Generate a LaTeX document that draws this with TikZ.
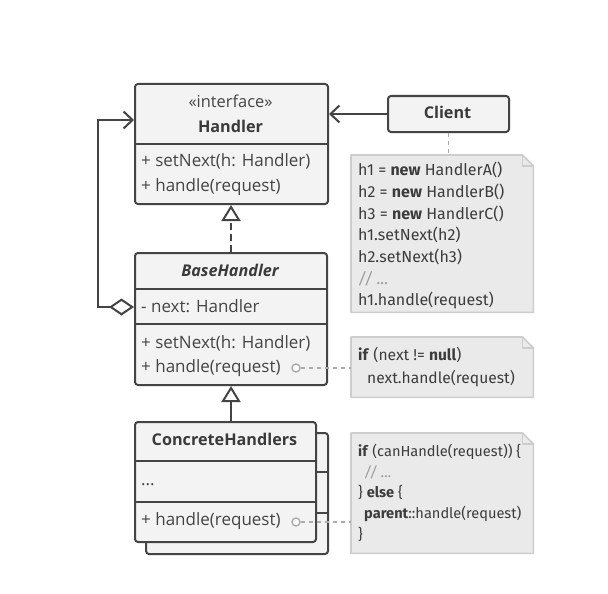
\documentclass[tikz,border=0pt]{standalone}
\usepackage{fontspec}
\setmainfont{Open Sans}
\newfontfamily\notefont{Fira Sans}
\usetikzlibrary{arrows.meta,calc}
\definecolor{ink}{HTML}{444444}
\definecolor{titleink}{HTML}{3A3A3A}
\definecolor{boxfill}{HTML}{F3F3F3}
\definecolor{notefill}{HTML}{EAEAEA}
\definecolor{noteline}{HTML}{CDCDCD}
\definecolor{noteink}{HTML}{3C3C3C}
\definecolor{commentink}{HTML}{9A9A9A}
\definecolor{hintgray}{HTML}{ABABAB}
\begin{document}
\begin{tikzpicture}[x=1pt,y=-1pt,
  umlbox/.style={draw=ink, fill=boxfill, line width=2pt, rounded corners=3pt,
    anchor=north west, inner sep=0pt},
  divider/.style={draw=ink, line width=2pt},
  boxtext/.style={anchor=base west, inner sep=0pt, text=ink,
    font=\fontsize{17}{19}\selectfont},
  boxtitle/.style={anchor=base, inner sep=0pt, text=titleink,
    font=\fontsize{16.2}{19}\selectfont\bfseries},
  noteframe/.style={anchor=north west, inner sep=0pt},
  notetext/.style={anchor=north west, inner sep=0pt, align=left, text=noteink},
  link/.style={draw=ink, line width=2pt},
  hint/.style={draw=hintgray, line width=1.6pt, dash pattern=on 4pt off 4pt},
  port/.style={circle, draw=hintgray, fill=white, line width=1.4pt,
    minimum size=8pt, inner sep=0pt},
  opentip/.style={-{Straight Barb[length=9pt,width=17pt,line width=2pt]}},
  inherit/.style={-{Triangle[open,length=16pt,width=19pt,line width=2pt,fill=white]}},
]
\useasboundingbox (0,0) rectangle (608,594);
\fill[white] (0,0) rectangle (608,594);

% folded-corner note outline
\newcommand{\drawnote}[1]{%
  \draw[fill=notefill, draw=noteline, line width=1.6pt, line join=round]
    (#1.north west) -- ($(#1.north east)+(-11,0)$) -- ($(#1.north east)+(0,11)$)
    -- (#1.south east) -- (#1.south west) -- cycle;
  \draw[draw=noteline, line width=1.6pt, line join=round]
    ($(#1.north east)+(-11,0)$) -- ($(#1.north east)+(-11,11)$)
    -- ($(#1.north east)+(0,11)$);}

% ---- Handler interface
\node[umlbox, minimum width=193pt, minimum height=120pt] (handler) at (134,83) {};
\draw[divider] (handler.west |- 0,144) -- (handler.east |- 0,144);
\node[boxtext, anchor=base, font=\fontsize{16.4}{19}\selectfont] (hstereo) at (230.5,107) {«interface»};
\node[boxtitle] (htitle) at (230.5,132) {Handler};
\node[boxtext] (hm1) at (141,166) {+ setNext(h: Handler)};
\node[boxtext] (hm2) at (141,191) {+ handle(request)};

% ---- Client
\node[umlbox, minimum width=121pt, minimum height=36pt] (client) at (387,95) {};
\node[boxtitle] (ctitle) at (447.5,118) {Client};

% ---- BaseHandler
\node[umlbox, minimum width=192pt, minimum height=132pt] (base) at (134,252) {};
\draw[divider] (base.west |- 0,289) -- (base.east |- 0,289);
\draw[divider] (base.west |- 0,324) -- (base.east |- 0,324);
\node[boxtitle, font=\fontsize{16.2}{19}\selectfont\bfseries\itshape] (btitle) at (230,276) {BaseHandler};
\node[boxtext] (bnext) at (141,312) {- next: Handler};
\node[boxtext] (bm1) at (141,348) {+ setNext(h: Handler)};
\node[boxtext] (bm2) at (141,372) {+ handle(request)};

% ---- ConcreteHandlers (stacked)
\node[umlbox, minimum width=182pt, minimum height=121pt] (concreteback) at (145,432) {};
\draw[divider] (concreteback.west |- 0,472) -- (concreteback.east |- 0,472);
\draw[divider] (concreteback.west |- 0,513) -- (concreteback.east |- 0,513);
\node[umlbox, minimum width=181pt, minimum height=120pt] (concrete) at (134,421) {};
\draw[divider] (concrete.west |- 0,461) -- (concrete.east |- 0,461);
\draw[divider] (concrete.west |- 0,502) -- (concrete.east |- 0,502);
\node[boxtitle] (ctitle2) at (224.5,445) {ConcreteHandlers};
\node[boxtext] (cdots) at (141,485) {...};
\node[boxtext] (cm1) at (141,525) {+ handle(request)};

% ---- notes
\node[noteframe, minimum width=182pt, minimum height=157pt] (note1) at (351,155) {};
\drawnote{note1}
\node[notetext, font=\notefont\fontsize{16}{21.67}\selectfont] (note1text) at (358,162) {%
h1 = \textbf{new} HandlerA()\\
h2 = \textbf{new} HandlerB()\\
h3 = \textbf{new} HandlerC()\\
h1.setNext(h2)\\
h2.setNext(h3)\\
{\color{commentink}\itshape // ...}\\
h1.handle(request)};

\node[noteframe, minimum width=182pt, minimum height=60pt] (note2) at (351,337) {};
\drawnote{note2}
\node[notetext, font=\notefont\fontsize{15.6}{23}\selectfont] (note2text) at (358,347) {%
\textbf{if} (next != \textbf{null})\\
\hspace*{9pt}next.handle(request)};

\node[noteframe, minimum width=182pt, minimum height=120pt] (note3) at (351,433) {};
\drawnote{note3}
\node[notetext, font=\notefont\fontsize{14.6}{20.7}\selectfont] (note3text) at (358,444) {%
\textbf{if} (canHandle(request)) \{\\
\hspace*{6pt}{\color{commentink}\itshape // ...}\\
\} \textbf{else} \{\\
\hspace*{6pt}\textbf{parent}::handle(request)\\
\}};

% ---- connectors
\draw[link, opentip] (client.west) -- (client.west -| handler.east);
\draw[hint] (client.south) -- (client.south |- note1.north);
\draw[link, dash pattern=on 7pt off 4pt, inherit] (base.north) -- (base.north |- handler.south);
\draw[link, inherit] (base.south |- concrete.north) -- (base.south);
\draw[link, {Diamond[open,length=25pt,width=17pt,line width=2pt,fill=white]}-{Straight Barb[length=9pt,width=17pt,line width=2pt]}]
  (base.west |- 0,307) -- (98,307) -- (98,120) -- (handler.west |- 0,120);

\node[port] (port1) at (296,368) {};
\draw[hint] (port1.east) -- (port1.east -| note2.west);
\node[port] (port2) at (296,522) {};
\draw[hint] (port2.east) -- (port2.east -| note3.west);
\end{tikzpicture}
\end{document}
